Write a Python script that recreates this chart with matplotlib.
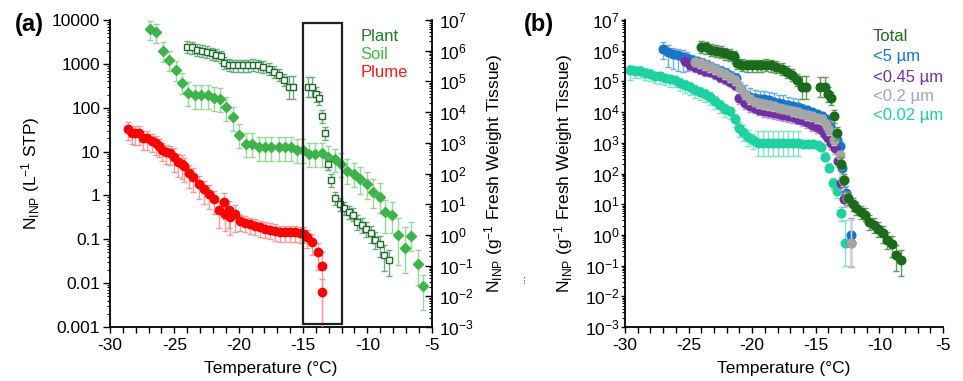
import matplotlib
matplotlib.use('Agg')
import matplotlib.pyplot as plt
import numpy as np
from matplotlib.ticker import (LogLocator, MultipleLocator, FuncFormatter,
                               NullFormatter, LogFormatterMathtext)
from matplotlib.patches import Rectangle
import matplotlib.transforms as mtransforms

plt.rcParams['font.family'] = ['Liberation Sans', 'DejaVu Sans']
plt.rcParams['mathtext.fontset'] = 'custom'
plt.rcParams['mathtext.rm'] = 'Liberation Sans'
plt.rcParams['mathtext.it'] = 'Liberation Sans:italic'
plt.rcParams['mathtext.bf'] = 'Liberation Sans:bold'
plt.rcParams['axes.unicode_minus'] = False

# ---------------- data: panel (a) ----------------
plume_x = [-28.62, -28.31, -28.06, -27.75, -27.41, -27.1, -26.76, -26.45, -26.17, -25.98,
           -25.67, -25.34, -25.0, -24.69, -24.43, -24.25, -23.86, -23.53, -23.08, -22.69,
           -22.33, -21.94, -21.53, -21.14, -21.06, -20.75, -20.67, -20.29, -19.9, -19.51,
           -19.12, -18.73, -18.34, -17.96, -17.57, -17.18, -16.79, -16.4, -16.0, -15.6,
           -15.2, -14.95, -14.67, -14.28, -13.81, -13.55, -13.5]
plume_y = [33, 27, 26, 26, 20, 20, 17.8, 15.5, 13.5, 11,
           9.7, 9.2, 7.7, 5.7, 5.3, 4.6, 3.2, 2.7, 1.8, 1.4,
           1.1, 0.83, 0.46, 0.72, 0.38, 0.46, 0.32, 0.37, 0.26, 0.24,
           0.22, 0.205, 0.19, 0.175, 0.166, 0.156, 0.143, 0.143, 0.143, 0.143,
           0.138, 0.135, 0.115, 0.089, 0.051, 0.025, 0.0062]
plume_err = [0.45, 0.45, 0.45, 0.45, 0.45, 0.45, 0.45, 0.45, 0.45, 0.45,
             0.45, 0.45, 0.55, 0.55, 0.55, 0.55, 0.55, 0.55, 0.55, 0.55,
             0.55, 0.55, 0.6, 0.6, 0.6, 0.6, 0.6, 0.6, 0.4, 0.4,
             0.4, 0.4, 0.4, 0.4, 0.4, 0.4, 0.4, 0.4, 0.4, 0.4,
             0.4, 0.4, 0.45, 0.5, 0.6, 1.0, 1.0]

soil_x = [-26.9, -26.4, -25.9, -25.4, -24.9, -24.4, -23.9, -23.4, -22.9, -22.4,
          -21.9, -21.45, -20.95, -20.45, -19.95, -19.45, -18.95, -18.45, -17.95, -17.45,
          -16.9, -16.4, -15.95, -15.5, -15.0, -14.5, -14.05, -13.55, -13.05, -12.5,
          -12.05, -11.55, -11.05, -10.55, -10.05, -9.55, -9.05, -8.6, -8.1, -7.6,
          -7.1, -6.6, -6.1, -5.65]
soil_y = [6240, 5350, 2000, 1230, 725, 373, 220, 190, 190, 190,
          167, 158, 102, 60, 24.5, 15, 15, 12.5, 12.4, 12.4,
          12.4, 12.4, 12.4, 10.9, 10.9, 8.9, 8.9, 9.1, 7.7, 6.7,
          5.25, 3.7, 3.1, 2.35, 1.84, 1.17, 0.91, 0.415, 0.35, 0.126,
          0.063, 0.12, 0.027, 0.0087]
soil_up = [0.5, 0.5, 0.6, 0.6, 0.6, 0.65, 0.75, 0.75, 0.75, 0.75,
           0.75, 0.75, 0.75, 0.75, 0.75, 0.75, 0.75, 0.75, 0.75, 0.75,
           0.75, 0.75, 0.75, 0.75, 0.75, 0.75, 0.75, 0.75, 0.75, 0.75,
           0.8, 0.8, 0.8, 0.9, 0.9, 1.0, 1.1, 0.9, 1.0, 1.4,
           2.1, 1.1, 1.1, 0.78]
soil_dn = [0.45, 0.45, 0.45, 0.45, 0.45, 0.45, 0.5, 0.5, 0.5, 0.5,
           0.5, 0.5, 0.5, 0.5, 0.5, 0.5, 0.5, 0.5, 0.5, 0.5,
           0.5, 0.5, 0.5, 0.5, 0.5, 0.5, 0.5, 0.5, 0.5, 0.5,
           0.5, 0.5, 0.5, 0.55, 0.55, 0.55, 0.57, 0.67, 0.6, 0.79,
           0.73, 0.56, 0.66, 0.72]

# Plant (panel a, right axis) = Total (panel b)
plant_x = [-24.0, -23.62, -23.27, -22.88, -22.49, -22.1, -21.73, -21.4, -21.17, -20.79,
           -20.43, -20.05, -19.65, -19.27, -18.9, -18.5, -18.1, -17.68, -17.27, -16.88,
           -16.5, -16.12, -15.75, -14.65, -14.3, -14.03, -13.79, -13.56, -13.3, -13.04,
           -12.8, -12.5, -12.1, -11.8, -11.45, -11.1, -10.8, -10.45, -10.08, -9.75,
           -9.4, -9.0, -8.68, -8.33]
plant_y = [1.35e6, 1.28e6, 1.05e6, 1.0e6, 9.0e5, 8.2e5, 7.5e5, 6.5e5, 3.9e5, 3.5e5,
           3.3e5, 3.3e5, 3.3e5, 3.3e5, 3.5e5, 3.3e5, 2.9e5, 2.5e5, 2.0e5, 1.6e5,
           1.15e5, 6.7e4, 6.7e4, 6.8e4, 6.8e4, 3.8e4, 2.8e4, 7.3e3, 2.1e3, 210,
           62, 16, 9.8, 7.4, 5.6, 4.6, 2.7, 2.1, 1.6, 1.12,
           0.7, 0.49, 0.23, 0.158]
plant_up = [0.55, 0.55, 0.55, 0.55, 0.55, 0.55, 0.55, 0.55, 0.55, 0.55,
            0.55, 0.55, 0.55, 0.55, 0.55, 0.55, 0.55, 0.55, 0.55, 0.55,
            0.55, 1.2, 1.2, 1.0, 1.0, 0.7, 0.6, 0.6, 0.6, 0.6,
            0.6, 0.6, 0.6, 0.6, 0.6, 0.6, 0.7, 0.7, 0.7, 0.8,
            0.8, 0.9, 1.0, 1.0]
plant_dn = [0.37, 0.37, 0.37, 0.37, 0.37, 0.37, 0.37, 0.37, 0.37, 0.37,
            0.37, 0.37, 0.37, 0.37, 0.37, 0.37, 0.37, 0.37, 0.37, 0.37,
            0.37, 0.6, 0.6, 0.55, 0.55, 0.45, 0.4, 0.4, 0.4, 0.4,
            0.4, 0.4, 0.4, 0.4, 0.4, 0.4, 0.45, 0.45, 0.45, 0.5,
            0.5, 0.6, 0.7, 0.72]

# ---------------- data: panel (b) ----------------
blue_x = [-27.0, -26.62, -26.23, -25.85, -25.47, -25.1, -24.72, -24.33, -23.95, -23.57,
          -23.2, -22.82, -22.43, -22.05, -21.67, -21.3, -20.92, -20.55, -20.18, -19.8,
          -19.42, -19.05, -18.67, -18.3, -17.92, -17.55, -17.17, -16.8, -16.42, -16.05,
          -15.67, -15.3, -14.92, -14.55, -14.17, -13.9, -13.57, -13.35, -13.12, -12.91,
          -12.6, -12.26]
blue_y = [1.1e6, 9.4e5, 7.7e5, 7.0e5, 6.2e5, 5.6e5, 5.0e5, 4.5e5, 4.0e5, 3.5e5,
          3.0e5, 2.6e5, 2.2e5, 1.9e5, 1.55e5, 1.3e5, 6.0e4, 4.0e4, 3.2e4, 2.8e4,
          2.7e4, 2.6e4, 2.4e4, 2.2e4, 2.0e4, 1.9e4, 1.7e4, 1.55e4, 1.45e4, 1.3e4,
          1.15e4, 1.0e4, 8.8e3, 7.5e3, 6.0e3, 3.4e3, 1.8e3, 1.2e3, 760, 150,
          24, 1.0]
blue_up = [0.78, 0.65, 0.65, 0.65, 0.65, 0.6, 0.4, 0.4, 0.4, 0.4,
           0.4, 0.4, 0.4, 0.4, 0.4, 0.4, 0.6, 0.85, 0.85, 0.85,
           0.85, 0.85, 0.85, 0.85, 0.85, 0.85, 0.85, 0.85, 0.85, 0.4,
           0.4, 0.35, 0.35, 0.35, 0.35, 0.35, 0.35, 0.35, 0.4, 0.5,
           0.6, 2.5]
blue_dn = [0.5, 0.68, 0.68, 0.68, 0.68, 0.6, 0.35, 0.35, 0.35, 0.35,
           0.35, 0.35, 0.35, 0.35, 0.35, 0.35, 0.45, 0.5, 0.5, 0.5,
           0.5, 0.5, 0.5, 0.5, 0.5, 0.5, 0.5, 0.5, 0.5, 0.3,
           0.3, 0.3, 0.3, 0.3, 0.3, 0.3, 0.3, 0.3, 0.3, 0.35,
           0.4, 0.9]

purple_x = [-25.3, -24.9, -24.52, -24.13, -23.74, -23.35, -22.95, -22.56, -22.17, -21.77,
            -21.38, -21.0, -20.6, -20.2, -19.8, -19.43, -19.05, -18.68, -18.3, -17.92,
            -17.55, -17.17, -16.8, -16.42, -16.05, -15.67, -15.3, -14.92, -14.55, -14.3,
            -14.04, -13.8, -13.52, -13.25, -12.99, -12.8, -12.21]
purple_y = [4.7e5, 3.4e5, 2.9e5, 2.5e5, 2.2e5, 2.1e5, 1.75e5, 1.4e5, 1.2e5, 9.8e4,
            7.6e4, 2.8e4, 1.95e4, 1.6e4, 1.4e4, 1.2e4, 1.1e4, 1.0e4, 9.5e3, 8.5e3,
            8.0e3, 7.3e3, 6.7e3, 6.1e3, 5.5e3, 4.8e3, 3.8e3, 3.2e3, 2.6e3, 2.0e3,
            1.4e3, 950, 660, 250, 50, 15, 0.54]
purple_up = [0.35, 0.35, 0.35, 0.35, 0.35, 0.35, 0.35, 0.35, 0.35, 0.35,
             0.35, 0.4, 0.4, 0.4, 0.4, 0.4, 0.4, 0.4, 0.4, 0.4,
             0.4, 0.4, 0.4, 0.4, 0.4, 0.4, 0.4, 0.4, 0.4, 0.4,
             0.4, 0.4, 0.4, 0.4, 0.5, 0.6, 5.5]
purple_dn = [0.3, 0.3, 0.3, 0.3, 0.3, 0.3, 0.3, 0.3, 0.3, 0.3,
             0.3, 0.35, 0.35, 0.35, 0.35, 0.35, 0.35, 0.35, 0.35, 0.35,
             0.35, 0.35, 0.35, 0.35, 0.35, 0.35, 0.35, 0.35, 0.35, 0.35,
             0.35, 0.35, 0.35, 0.35, 0.4, 0.45, 0.83]

gray_x = [-24.52, -24.13, -23.74, -23.35, -22.95, -22.56, -22.17, -21.77, -21.38, -20.99,
          -20.6, -20.2, -19.8, -19.43, -19.05, -18.68, -18.3, -17.92, -17.55, -17.17,
          -16.8, -16.42, -16.05, -15.67, -15.3, -14.92, -14.55, -14.2, -13.94, -13.55,
          -13.12, -12.86, -12.52, -12.21]
gray_y = [4.4e5, 3.9e5, 3.4e5, 2.9e5, 2.5e5, 2.1e5, 1.75e5, 1.4e5, 1.1e5, 6.0e4,
          3.9e4, 2.6e4, 2.2e4, 2.0e4, 1.8e4, 1.7e4, 1.55e4, 1.4e4, 1.3e4, 1.2e4,
          1.1e4, 1.0e4, 9.0e3, 8.0e3, 7.2e3, 6.5e3, 5.9e3, 4.0e3, 2.6e3, 1.2e3,
          400, 63, 16, 0.56]
gray_up = [0.35, 0.35, 0.35, 0.35, 0.35, 0.35, 0.35, 0.35, 0.35, 0.35,
           0.35, 0.35, 0.35, 0.35, 0.35, 0.35, 0.35, 0.35, 0.35, 0.35,
           0.35, 0.35, 0.35, 0.35, 0.35, 0.35, 0.35, 0.35, 0.35, 0.35,
           0.4, 0.5, 0.6, 4.5]
gray_dn = [0.3, 0.3, 0.3, 0.3, 0.3, 0.3, 0.3, 0.3, 0.3, 0.3,
           0.3, 0.3, 0.3, 0.3, 0.3, 0.3, 0.3, 0.3, 0.3, 0.3,
           0.3, 0.3, 0.3, 0.3, 0.3, 0.3, 0.3, 0.3, 0.3, 0.3,
           0.35, 0.4, 0.45, 0.83]

turq_x = [-29.63, -29.24, -28.85, -28.45, -28.06, -27.67, -27.27, -26.88, -26.49, -26.1,
          -25.7, -25.31, -24.92, -24.52, -24.13, -23.74, -23.34, -22.95, -22.56, -22.16,
          -21.77, -21.38, -21.04, -20.72, -20.33, -19.94, -19.54, -19.15, -18.76, -18.37,
          -17.98, -17.59, -17.2, -16.81, -16.42, -16.03, -15.64, -15.25, -14.86, -14.56,
          -14.25, -13.96, -13.65, -13.33, -13.04, -12.73]
turq_y = [2.3e5, 2.2e5, 2.2e5, 1.9e5, 1.75e5, 1.5e5, 1.45e5, 1.27e5, 1.17e5, 1.1e5,
          9.1e4, 7.7e4, 6.5e4, 5.3e4, 4.6e4, 3.8e4, 3.2e4, 2.3e4, 1.7e4, 1.3e4,
          1.05e4, 5.9e3, 3.0e3, 2.3e3, 1.6e3, 1.25e3, 980, 980, 980, 980,
          980, 980, 980, 980, 980, 900, 900, 900, 850, 740,
          355, 155, 48, 26, 5.0, 0.56]
turq_up = [0.5, 0.4, 0.4, 0.4, 0.4, 0.4, 0.4, 0.4, 0.4, 0.4,
           0.45, 0.45, 0.45, 0.45, 0.45, 0.45, 0.45, 0.45, 0.45, 0.45,
           0.45, 0.5, 0.6, 0.6, 0.6, 0.6, 1.5, 1.5, 1.5, 1.5,
           1.5, 1.5, 1.5, 1.5, 1.5, 0.2, 0.2, 0.2, 0.2, 0.3,
           0.4, 0.4, 0.5, 0.5, 0.6, 4.4]
turq_dn = [0.5, 0.42, 0.42, 0.42, 0.42, 0.42, 0.42, 0.42, 0.42, 0.42,
           0.45, 0.45, 0.45, 0.45, 0.45, 0.45, 0.45, 0.45, 0.45, 0.45,
           0.45, 0.45, 0.5, 0.5, 0.5, 0.5, 0.63, 0.63, 0.63, 0.63,
           0.63, 0.63, 0.63, 0.63, 0.63, 0.2, 0.2, 0.2, 0.2, 0.25,
           0.3, 0.3, 0.35, 0.4, 0.45, 0.82]

x_ticks = [-30, -25, -20, -15, -10, -5]
box_range = [-15, -12]

legend_a = [('Plant', '#257a2a'), ('Soil', '#45b84a'), ('Plume', '#ff1a1a')]
legend_b = [('Total', '#1c6b1c'), ('<5 µm', '#1874c8'), ('<0.45 µm', '#7030a0'),
            ('<0.2 µm', '#a6a6a6'), ('<0.02 µm', '#1fd1a0')]

# ---------------- figure ----------------
fig = plt.figure(figsize=(9.63, 3.81), dpi=100)
axa = fig.add_axes([0.1142, 0.1417, 0.3341, 0.8058])
axa2 = axa.twinx()
axb = fig.add_axes([0.649, 0.1417, 0.3302, 0.8058])


def draw(ax, x, y, up, dn, color, ecolor, marker, ms, mfc, z, mew=1.0):
    x = np.asarray(x, float)
    y = np.asarray(y, float)
    lo = y * np.asarray(dn, float)
    hi = y * np.asarray(up, float)
    ax.errorbar(x, y, yerr=[lo, hi], fmt='none', ecolor=ecolor, elinewidth=1.0,
                capsize=2.2, capthick=1.0, zorder=z)
    ax.plot(x, y, linestyle='none', marker=marker, ms=ms, mfc=mfc, mec=color,
            mew=mew, zorder=z + 0.5)


# panel (a)
draw(axa, plume_x, plume_y, plume_err, plume_err, '#ff0000', '#f79a9a', 'o', 6.0, '#ff0000', 3)
draw(axa, soil_x, soil_y, soil_up, soil_dn, '#3cb44a', '#97d898', 'D', 5.2, '#3cb44a', 4)
draw(axa2, plant_x, plant_y, plant_up, plant_dn, '#1f6b2a', '#6fa983', 's', 5.0, 'white', 5, mew=1.0)

# panel (b)
draw(axb, turq_x, turq_y, turq_up, turq_dn, '#1fd1a0', '#7fe5c9', 'o', 6.2, '#1fd1a0', 2)
draw(axb, blue_x, blue_y, blue_up, blue_dn, '#1874c8', '#6cb0e8', 'o', 6.2, '#1874c8', 3)
draw(axb, purple_x, purple_y, purple_up, purple_dn, '#7030a0', '#b89ad8', 'o', 6.2, '#7030a0', 4)
draw(axb, gray_x, gray_y, gray_up, gray_dn, '#a6a6a6', '#cfcfcf', 'o', 6.2, '#a6a6a6', 5)
draw(axb, plant_x, plant_y, plant_up, plant_dn, '#1c6b1c', '#5f9a5f', 'o', 6.2, '#1c6b1c', 6)

# rectangle
trans = mtransforms.blended_transform_factory(axa.transData, axa.transAxes)
axa2.add_patch(Rectangle((box_range[0], 0.01), box_range[1] - box_range[0], 0.98,
                         transform=trans, fill=False, ec='#222222', lw=1.6, zorder=10,
                         clip_on=False))

# axes limits / scales
for ax in (axa, axb):
    ax.set_xlim(-30, -5)
    ax.set_xticks(x_ticks)
    ax.set_xticklabels([str(t) for t in x_ticks])
    ax.xaxis.set_minor_locator(MultipleLocator(1))
    ax.tick_params(axis='x', which='both', direction='out', length=4, width=1.0,
                   labelsize=12.5, pad=4, top=False)
axa.set_yscale('log')
axa.set_ylim(1e-3, 1e4)
axa2.set_yscale('log')
axa2.set_ylim(1e-3, 1e7)
axb.set_yscale('log')
axb.set_ylim(1e-3, 1e7)

for ax in (axa, axa2, axb):
    ax.yaxis.set_major_locator(LogLocator(base=10, numticks=30))
    ax.yaxis.set_minor_locator(LogLocator(base=10, subs=np.arange(2, 10), numticks=30))
    ax.yaxis.set_minor_formatter(NullFormatter())

axa.yaxis.set_major_formatter(FuncFormatter(lambda v, p: '%g' % v))
axa2.yaxis.set_major_formatter(LogFormatterMathtext())
axb.yaxis.set_major_formatter(LogFormatterMathtext())

axa.tick_params(axis='y', which='major', direction='out', length=5, width=1.0, labelsize=12.5, pad=2)
axa.tick_params(axis='y', which='minor', direction='out', length=2.5, width=0.8)
axa2.tick_params(axis='y', which='major', direction='in', length=5, width=1.0, labelsize=12.5, pad=5)
axa2.tick_params(axis='y', which='minor', direction='in', length=2.5, width=0.8)
axb.tick_params(axis='y', which='major', direction='out', length=3, width=1.0, labelsize=12.5, pad=1)
axb.tick_params(axis='y', which='minor', direction='out', length=2, width=0.8)

for s in ('top',):
    axa.spines[s].set_visible(False)
    axa2.spines[s].set_visible(False)
axa.spines['right'].set_visible(False)
for s in ('left', 'bottom'):
    axa2.spines[s].set_visible(False)
axb.spines['top'].set_visible(False)
axb.spines['right'].set_visible(False)
for ax in (axa, axa2, axb):
    for sp in ax.spines.values():
        sp.set_linewidth(1.3)
        sp.set_color('black')

# labels
fig.text(0.032, 0.545, r'N$_{\mathregular{INP}}$ (L$^{\mathregular{-1}}$ STP)',
         rotation=90, ha='center', va='center', fontsize=12.5)
fig.text(0.512, 0.545, r'N$_{\mathregular{INP}}$ (g$^{\mathregular{-1}}$ Fresh Weight Tissue)',
         rotation=90, ha='center', va='center', fontsize=12.5)
fig.text(0.585, 0.545, r'N$_{\mathregular{INP}}$ (g$^{\mathregular{-1}}$ Fresh Weight Tissue)',
         rotation=90, ha='center', va='center', fontsize=12.5)
fig.text(0.542, 0.27, '...', rotation=90, ha='center', va='center', fontsize=9, color='#333333')
fig.text(0.2815, 0.032, 'Temperature (°C)', ha='center', va='center', fontsize=12.5)
fig.text(0.814, 0.032, 'Temperature (°C)', ha='center', va='center', fontsize=12.5)
fig.text(0.030, 0.937, '(a)', ha='center', va='center', fontsize=17, fontweight='bold')
fig.text(0.560, 0.937, '(b)', ha='center', va='center', fontsize=17, fontweight='bold')

ya = [0.903, 0.856, 0.811]
for (t, c), yy in zip(legend_a, ya):
    fig.text(0.374, yy, t, color=c, ha='left', va='center', fontsize=12)
yb = [0.904, 0.851, 0.797, 0.746, 0.696]
for (t, c), yy in zip(legend_b, yb):
    fig.text(0.9065, yy, t, color=c, ha='left', va='center', fontsize=12)

fig.savefig('out.png', dpi=100)
